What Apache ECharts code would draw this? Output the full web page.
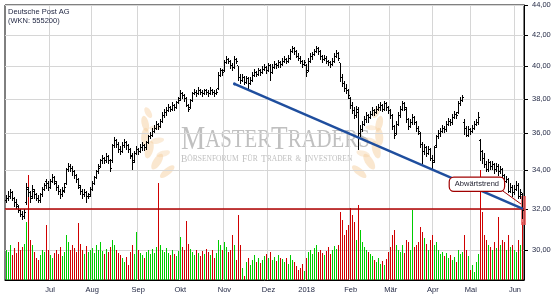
<!DOCTYPE html>
<html><head><meta charset="utf-8">
<script src="https://cdn.jsdelivr.net/npm/echarts@6/dist/echarts.min.js"></script>
<style>html,body{margin:0;padding:0;background:#fff}#c{width:555px;height:300px}</style>
</head><body><div id="c"></div>
<script>
// ---- data ----
const monthLabels = ['', 'Jul', 'Aug', 'Sep', 'Okt', 'Nov', 'Dez', '2018', 'Feb', 'Mär', 'Apr', 'Mai', 'Jun'];
const monthDays = [22, 21, 23, 21, 22, 22, 19, 22, 20, 21, 19, 22, 5];
const priceTicks = [30, 32, 34, 36, 38, 40, 42, 44];
// [open, high, low, close]
const ohlc = [
[32.4,32.7,32.3,32.5],[32.5,32.9,32.4,32.6],[32.6,33.0,32.5,32.8],[32.8,32.9,32.4,32.5],[32.5,32.6,32.1,32.3],
[32.3,32.5,32.0,32.2],[32.1,32.2,31.8,31.9],[31.9,32.0,31.6,31.7],[31.7,31.9,31.45,31.6],[31.6,32.0,31.5,31.8],
[32.3,33.3,32.2,33.1],[33.0,33.1,32.6,32.8],[32.8,32.9,32.3,32.5],[32.6,33.2,32.5,33.0],[32.9,33.0,32.5,32.7],
[32.7,32.8,32.4,32.5],[32.5,32.7,32.3,32.4],[32.4,32.8,32.3,32.7],[32.7,33.1,32.6,33.0],[33.0,33.3,32.9,33.2],
[33.4,33.5,33.0,33.3],[33.3,33.4,32.9,33.1],[33.1,33.5,33.0,33.4],[33.4,33.8,33.3,33.6],[33.6,33.7,33.2,33.4],
[33.3,33.4,32.9,33.1],[33.1,33.2,32.7,32.9],[32.9,33.0,32.5,32.7],[32.7,33.1,32.6,32.95],[32.9,33.3,32.8,33.1],
[33.3,34.1,33.2,34.0],[34.0,34.4,33.9,34.2],[34.2,34.3,33.9,34.1],[34.1,34.2,33.7,33.9],[33.9,34.0,33.5,33.7],
[33.7,33.8,33.3,33.5],[33.5,33.6,33.0,33.2],[33.1,33.2,32.7,32.9],[32.9,33.0,32.5,32.7],[32.7,33.0,32.6,32.8],
[32.8,32.9,32.3,32.6],[32.6,32.8,32.5,32.6],[32.7,33.1,32.6,33.0],[33.0,33.4,32.9,33.3],[33.3,33.7,33.2,33.6],
[33.6,34.0,33.5,33.9],[33.9,34.3,33.8,34.1],[34.2,34.6,34.1,34.5],[34.5,34.8,34.3,34.6],[34.6,34.7,34.3,34.5],
[34.5,34.9,34.4,34.7],[34.7,34.8,34.3,34.5],[34.5,34.6,33.9,34.1],[34.5,35.4,34.4,35.3],[35.3,35.8,35.2,35.6],
[35.6,35.7,35.2,35.4],[35.4,35.5,34.9,35.1],[35.1,35.3,34.8,35.0],[35.0,35.5,34.9,35.3],[35.3,35.7,35.2,35.5],
[35.5,35.6,35.1,35.3],[35.3,35.4,34.9,35.1],[35.1,35.2,34.6,34.8],[34.7,34.9,34.0,34.4],[34.5,35.0,34.4,34.9],
[34.9,35.3,34.8,35.1],[35.1,35.2,34.8,35.0],[35.0,35.4,34.9,35.2],[35.2,35.5,35.0,35.3],[35.3,35.4,35.0,35.2],
[35.2,35.6,35.1,35.5],[35.5,35.9,35.4,35.8],[35.8,36.1,35.7,35.9],[35.9,36.3,35.8,36.1],[36.1,36.5,36.0,36.3],
[36.3,36.7,36.2,36.5],[36.5,36.6,36.2,36.4],[36.4,36.8,36.3,36.7],[36.7,37.2,36.6,37.0],[37.0,37.4,36.9,37.2],
[37.2,37.5,37.0,37.3],[37.3,37.7,37.2,37.5],[37.5,37.6,37.2,37.4],[37.4,37.8,37.3,37.6],[37.6,37.7,37.3,37.5],
[37.5,37.9,37.4,37.8],[37.8,38.1,37.7,37.9],[38.0,38.5,37.9,38.3],[38.3,38.4,38.0,38.2],[38.2,38.3,37.8,38.0],
[38.0,38.1,37.5,37.6],[37.6,37.7,37.2,37.4],[37.5,38.0,37.4,37.9],[37.9,38.4,37.8,38.3],[38.3,38.6,38.2,38.4],
[38.4,38.5,38.1,38.3],[38.3,38.7,38.2,38.5],[38.5,38.6,38.2,38.4],[38.4,38.5,38.1,38.3],[38.3,38.6,38.2,38.5],
[38.5,38.6,38.2,38.4],[38.4,38.5,38.1,38.3],[38.3,38.7,38.2,38.5],[38.5,38.6,38.2,38.4],[38.4,38.5,38.1,38.3],
[38.3,38.6,38.2,38.4],[38.6,39.6,38.5,39.4],[39.4,39.9,39.3,39.7],[39.7,39.8,39.4,39.6],[39.7,40.4,39.6,40.2],
[40.2,40.6,40.1,40.4],[40.4,40.5,40.1,40.3],[40.3,40.4,39.8,40.0],[40.0,40.2,39.7,39.9],[39.9,40.6,39.8,40.4],
[40.4,40.5,40.1,40.3],[40.0,40.0,39.1,39.3],[39.3,39.5,38.9,39.1],[39.1,39.5,39.0,39.3],[39.3,39.4,38.8,39.0],
[39.0,39.4,38.9,39.2],[39.2,39.3,38.6,38.9],[38.9,39.3,38.8,39.1],[39.1,39.6,39.0,39.4],[39.4,39.8,39.3,39.6],
[39.6,39.7,39.3,39.5],[39.5,39.9,39.4,39.7],[39.7,39.8,39.4,39.6],[39.6,40.0,39.5,39.8],[39.8,40.1,39.7,39.9],
[39.9,40.0,39.5,39.7],[39.7,40.2,39.6,40.0],[40.0,40.1,39.1,39.6],[39.6,40.1,39.5,39.9],[39.9,40.3,39.8,40.1],
[40.1,40.2,39.8,40.0],[40.0,40.4,39.9,40.2],[40.2,40.3,39.9,40.1],[40.1,40.5,40.0,40.3],[40.3,40.6,40.2,40.4],
[40.4,40.5,40.1,40.3],[40.3,40.7,40.2,40.5],[40.5,41.1,40.4,40.9],[40.9,41.3,40.8,41.1],[41.1,41.2,40.7,40.9],
[40.9,41.0,40.5,40.6],[40.6,40.8,40.3,40.5],[40.5,40.6,40.1,40.3],[40.3,40.4,39.9,40.1],[40.1,40.4,40.0,40.2],
[40.0,40.1,39.3,39.6],[39.7,40.5,39.6,40.3],[40.3,40.8,40.2,40.6],[40.6,40.9,40.4,40.7],[40.7,41.1,40.6,40.9],
[40.9,41.3,40.8,41.1],[41.1,41.2,40.7,40.9],[40.9,41.0,40.4,40.6],[40.6,40.7,40.2,40.4],[40.4,40.7,40.3,40.5],
[40.5,40.6,40.1,40.3],[40.3,40.4,40.0,40.2],[40.2,40.3,39.9,40.1],[40.1,40.5,40.0,40.3],[40.3,40.8,40.2,40.6],
[40.6,41.0,40.5,40.8],[40.8,40.9,40.3,40.5],[40.2,40.2,39.0,39.3],[39.3,39.5,38.7,38.9],[38.9,39.1,38.4,38.6],
[38.6,38.9,38.3,38.5],[38.5,38.6,38.0,38.2],[38.0,38.1,37.4,37.6],[37.6,37.8,37.1,37.3],[37.3,37.5,36.8,37.0],
[37.0,37.6,36.9,37.4],[37.2,37.5,35.1,36.0],[36.0,36.5,35.8,36.2],[36.2,36.7,36.1,36.5],[36.5,37.0,36.4,36.8],
[36.8,37.2,36.6,37.0],[37.0,37.1,36.6,36.9],[36.9,37.3,36.8,37.1],[37.1,37.5,37.0,37.3],[37.3,37.4,37.0,37.2],
[37.2,37.6,37.1,37.4],[37.4,37.7,37.3,37.5],[37.5,37.8,37.3,37.6],[37.6,37.7,37.2,37.4],[37.4,37.9,37.3,37.7],
[37.7,37.8,37.3,37.5],[37.5,37.6,37.1,37.3],[37.3,37.4,36.8,37.0],[37.0,37.1,36.2,36.4],[36.4,36.5,35.7,35.9],
[36.0,36.7,35.9,36.5],[36.5,37.2,36.4,37.0],[37.0,37.6,36.9,37.4],[37.4,37.9,37.3,37.7],[37.7,37.8,37.3,37.5],
[37.4,37.5,36.6,36.8],[36.8,36.9,36.2,36.4],[36.4,36.8,36.3,36.6],[36.6,37.1,36.5,36.9],[36.9,37.0,36.5,36.6],
[36.6,36.7,36.1,36.3],[36.3,36.4,35.9,36.1],[36.0,36.1,35.2,35.4],[35.4,35.5,34.3,35.0],[35.0,35.4,34.8,35.2],
[35.2,35.3,34.7,34.9],[34.9,35.3,34.8,35.1],[35.1,35.2,34.5,34.6],[34.6,34.8,34.0,34.4],[34.5,35.3,34.4,35.2],
[35.3,35.9,35.2,35.8],[35.8,36.2,35.7,36.0],[36.0,36.3,35.8,36.1],[36.1,36.5,36.0,36.3],[36.3,36.4,36.0,36.2],
[36.2,36.7,36.1,36.5],[36.5,36.9,36.4,36.7],[36.7,36.8,36.4,36.6],[36.6,37.1,36.5,36.9],[36.9,37.3,36.8,37.1],
[37.1,37.2,36.8,37.0],[37.2,37.9,37.1,37.7],[37.7,38.1,37.6,37.9],[37.9,38.2,37.8,38.1],[36.6,36.8,35.9,36.3],
[36.3,36.4,35.8,35.9],[35.9,36.4,35.8,36.2],[36.2,36.3,35.9,36.1],[36.1,36.5,36.0,36.3],[36.3,36.7,36.2,36.5],
[36.5,36.8,36.4,36.6],[36.6,37.2,36.5,36.9],[35.6,35.7,34.5,35.0],[35.0,35.1,34.3,34.6],[34.6,34.9,34.1,34.3],
[34.3,34.5,33.9,34.0],[34.0,34.6,33.9,34.4],[34.4,34.5,34.0,34.2],[34.2,34.5,34.0,34.3],[34.3,34.4,33.8,34.0],
[34.0,34.4,33.9,34.2],[34.2,34.3,33.7,33.9],[33.9,34.2,33.8,34.0],[34.0,34.1,33.5,33.7],[33.7,33.8,33.2,33.4],
[33.4,33.7,33.3,33.5],[33.5,33.6,32.8,32.9],[32.9,33.3,32.8,33.1],[33.1,33.2,32.6,32.8],[32.8,33.2,32.7,33.0],
[33.0,33.4,32.9,33.2],[33.2,33.3,32.5,32.6],[32.6,33.0,32.5,32.8],[32.7,32.8,31.5,31.9]
];
// volume in millions of shares
const volume = [
3.0,2.8,3.5,2.5,3.2,2.7,3.8,3.0,3.3,3.6,
5.8,10.5,4.0,3.5,2.8,2.2,2.0,2.5,3.0,2.8,
5.5,3.0,2.5,2.2,2.7,3.0,2.6,3.3,2.4,2.8,
4.5,3.8,3.0,3.5,3.2,2.8,5.7,3.6,3.0,2.6,
3.4,2.8,3.0,3.2,2.7,3.5,3.0,3.8,2.9,2.6,
3.1,2.8,3.3,4.0,3.5,3.0,2.7,2.5,2.2,1.8,
2.3,1.5,2.8,3.5,2.6,4.8,3.0,2.7,2.5,2.2,
2.8,3.0,2.6,3.1,2.7,3.3,9.7,3.5,3.0,2.8,
3.2,2.7,2.5,3.0,2.6,2.4,2.9,4.3,3.3,3.0,
5.9,3.6,3.1,2.8,2.5,3.0,2.7,2.4,2.9,2.6,
3.1,2.8,2.5,3.0,2.2,2.7,4.0,3.5,3.0,3.8,
3.3,2.8,3.0,4.5,3.5,2.0,6.5,3.5,1.2,0.4,
1.8,2.2,1.5,2.0,2.5,1.8,2.2,1.7,2.0,2.4,
2.6,2.2,2.8,2.0,2.3,1.9,2.5,2.2,2.1,1.8,
2.2,1.6,2.5,2.0,1.8,1.4,1.0,1.2,1.6,0.9,
2.2,2.8,3.0,2.6,3.2,3.5,2.8,3.0,2.7,2.5,
2.9,3.3,2.6,3.0,3.4,3.1,3.5,6.8,6.0,4.5,
5.0,5.5,7.2,6.5,5.8,4.0,7.5,5.0,3.8,3.3,
3.0,2.8,2.6,2.4,2.0,1.8,2.2,1.6,1.9,1.5,
2.1,2.8,3.3,4.5,5.0,3.5,3.0,2.8,3.5,2.7,
4.0,3.8,3.0,7.0,3.3,3.5,3.8,5.3,4.8,4.2,
3.6,3.0,4.0,4.5,3.5,3.8,3.0,2.6,2.8,2.4,
2.7,2.2,2.5,2.0,2.3,1.8,3.0,2.6,2.8,4.5,
3.0,2.4,1.0,1.5,0.8,1.8,2.6,11.0,6.8,4.5,
4.0,3.5,3.3,3.0,3.8,3.2,6.3,3.5,4.0,3.8,
3.0,4.5,3.3,3.5,3.0,2.8,4.0,3.5,5.8
];
const trendLine = [[114, 38.9], [258, 32.0]];
const connector = [[248, 32.9], [257, 32.24]];
const supportLevel = 32;
const annotation = { text: 'Abwärtstrend', index: 235, price: 33.25 };
const highlight = [[258, 32.65, 31.2]];

// ---- build ----
const categories = [];
const labelAt = {};
let k = 0;
monthDays.forEach((n, m) => {
  for (let d = 0; d < n; d++) {
    categories.push('t' + k);
    if (d === 0 && monthLabels[m]) labelAt[k] = monthLabels[m];
    k++;
  }
});
const isMonthStart = (idx) => labelAt[idx] !== undefined;
const L = Math.log;
const FONT = '"Liberation Sans", Arial, sans-serif';
const TXT = '#1e2440';
const SERIF = '"Liberation Serif", serif';
const WM = '#c0c0c0';

const ohlcData = ohlc.map((d, i) => [i, L(d[0]), L(d[1]), L(d[2]), L(d[3])]);
const volData = volume.map((v, i) => [i, v, ohlc[i][3] >= ohlc[i][0] ? 1 : 0]);

const leaf = (x, y, r, rx, ry, op) => ({ type: 'ellipse', x, y, rotation: r,
  shape: { cx: 0, cy: 0, rx, ry }, style: { fill: '#f6cf9f', opacity: op } });

const chart = echarts.init(document.getElementById('c'), null, { renderer: 'canvas' });
chart.setOption({
  animation: false,
  backgroundColor: '#fff',
  grid: { left: 5, right: 31, top: 5, bottom: 20, show: true, borderColor: '#000', borderWidth: 1 },
  xAxis: {
    type: 'category', data: categories, boundaryGap: true,
    axisLine: { lineStyle: { color: '#000', width: 1 } },
    axisTick: { interval: (i) => isMonthStart(i), length: 4, lineStyle: { color: '#000' } },
    axisLabel: { interval: (i) => isMonthStart(i), formatter: (v, i) => labelAt[i] || '',
      fontSize: 7.5, fontFamily: FONT, color: TXT, margin: 6 },
    splitLine: { show: true, interval: (i) => isMonthStart(i), lineStyle: { color: '#d6d6d6', width: 1 } }
  },
  yAxis: [{
    type: 'value', position: 'right', min: L(28.63), max: L(44), scale: true,
    axisLine: { show: true, lineStyle: { color: '#000', width: 1 } },
    axisTick: { show: true, length: 4, customValues: priceTicks.map(L), lineStyle: { color: '#000' } },
    axisLabel: { customValues: priceTicks.map(L), formatter: (v) => Math.exp(v).toFixed(2).replace('.', ','),
      fontSize: 7.5, fontFamily: FONT, color: TXT, margin: 8 },
    splitLine: { show: true, lineStyle: { color: '#d6d6d6', width: 1 } }
  }, {
    type: 'value', min: 0, max: 27.5, show: false, splitLine: { show: false }
  }],
  graphic: [
    { type: 'text', left: 8, top: 7, z: 10,
      style: { text: 'Deutsche Post AG\n(WKN: 555200)', font: '7.5px ' + FONT, fill: TXT, lineHeight: 9.5 } },
    { type: 'group', left: 140, top: 106, z: -1, silent: true, children: [
      leaf(34, 64, 0.7, 9, 3.5, 0.5), leaf(24, 54, 1.0, 9, 4, 0.5), leaf(16, 42, 1.3, 9, 4, 0.5),
      leaf(12, 29, 1.5, 9, 4, 0.5), leaf(12, 16, 1.8, 8, 3.5, 0.5), leaf(15, 5, 2.1, 6, 3, 0.45),
      leaf(30, 46, 0.3, 7, 3, 0.4), leaf(24, 33, 0.2, 7, 3, 0.4), leaf(22, 20, 0.1, 6, 2.5, 0.35),
      leaf(226, 64, -0.7, 9, 3.5, 0.5), leaf(236, 54, -1.0, 9, 4, 0.5), leaf(243, 42, -1.3, 9, 4, 0.5),
      leaf(246, 29, -1.5, 9, 4, 0.5), leaf(246, 16, -1.8, 8, 3.5, 0.5), leaf(243, 5, -2.1, 6, 3, 0.45),
      leaf(230, 46, -0.3, 7, 3, 0.4), leaf(236, 33, -0.2, 7, 3, 0.4), leaf(238, 20, -0.1, 6, 2.5, 0.35)
    ]},
    { type: 'text', x: 181, y: 123, scaleX: 0.8, z: -1, silent: true,
      style: { text: '{a|M}{b|ASTER}{a|T}{b|RADERS}', fill: WM,
        rich: { a: { fontSize: 34, fontFamily: SERIF, fill: WM },
                b: { fontSize: 26, fontFamily: SERIF, fill: WM } } } },
    { type: 'text', x: 181, y: 153, z: -1, silent: true,
      style: { text: '{c|B}{d|ÖRSENFORUM} {c|F}{d|ÜR} {c|T}{d|RADER} {d|&} {c|I}{d|NVESTOREN}', fill: WM,
        rich: { c: { fontSize: 9.5, fontFamily: SERIF, fill: WM },
                d: { fontSize: 7.5, fontFamily: SERIF, fill: WM } } } }
  ],
  series: [{
    type: 'custom', name: 'Volumen', xAxisIndex: 0, yAxisIndex: 1, z: 1, silent: true,
    data: volData,
    encode: { x: 0, y: 1 },
    renderItem: (params, api) => {
      const top = api.coord([api.value(0), api.value(1)]);
      const base = api.coord([api.value(0), 0]);
      const xi = Math.round(top[0] - 0.5);
      const yt = Math.round(top[1]);
      return { type: 'rect', shape: { x: xi, y: yt, width: 1, height: Math.round(base[1]) - yt },
        style: { fill: api.value(2) ? '#00cc00' : '#d00000' } };
    }
  }, {
    type: 'custom', name: 'Highlight', xAxisIndex: 0, yAxisIndex: 0, z: 2, silent: true,
    data: highlight.map(h => [h[0], L(h[1]), L(h[2])]),
    renderItem: (params, api) => {
      const a = api.coord([api.value(0), api.value(1)]);
      const b = api.coord([api.value(0), api.value(2)]);
      const xi = Math.round(a[0] - 0.5);
      return { type: 'rect', shape: { x: xi - 1, y: Math.round(a[1]), width: 5, height: Math.round(b[1] - a[1]) },
        style: { fill: '#ee5a5a', opacity: 0.8 } };
    }
  }, {
    type: 'custom', name: 'Deutsche Post AG', xAxisIndex: 0, yAxisIndex: 0, z: 3, silent: true,
    data: ohlcData,
    encode: { x: 0, y: [1, 2, 3, 4] },
    renderItem: (params, api) => {
      const i = api.value(0);
      const o = api.coord([i, api.value(1)]);
      const h = api.coord([i, api.value(2)]);
      const l = api.coord([i, api.value(3)]);
      const c = api.coord([i, api.value(4)]);
      const xi = Math.round(o[0] - 0.5);
      const st = { stroke: '#000', lineWidth: 1 };
      const oy = Math.round(o[1] - 0.5) + 0.5, cy = Math.round(c[1] - 0.5) + 0.5;
      return { type: 'group', children: [
        { type: 'line', shape: { x1: xi + 0.5, y1: Math.round(h[1]), x2: xi + 0.5, y2: Math.round(l[1]) }, style: st },
        { type: 'line', shape: { x1: xi - 1, y1: oy, x2: xi, y2: oy }, style: st },
        { type: 'line', shape: { x1: xi + 1, y1: cy, x2: xi + 2, y2: cy }, style: st }
      ]};
    },
    markLine: {
      silent: true, symbol: 'none', animation: false, label: { show: false },
      data: [
        [{ yAxis: L(supportLevel), x: 5, lineStyle: { color: '#b00000', width: 1.5, type: 'solid' } }, { yAxis: L(supportLevel), x: 524 }],
        [{ coord: [trendLine[0][0], L(trendLine[0][1])], symbol: 'circle', symbolSize: 3, lineStyle: { color: '#1f4e9e', width: 2.5, type: 'solid' } },
         { coord: [trendLine[1][0], L(trendLine[1][1])], symbol: 'none' }],
        [{ coord: [connector[0][0], L(connector[0][1])], lineStyle: { color: '#a00000', width: 1, type: 'solid' } },
         { coord: [connector[1][0], L(connector[1][1])] }]
      ]
    },
    markPoint: {
      silent: true, symbol: 'rect', symbolSize: 0, animation: false,
      data: [{ coord: [annotation.index, L(annotation.price)],
        label: { show: true, position: 'inside', formatter: annotation.text, fontSize: 7.5, fontFamily: FONT, color: '#1e1e2e',
          backgroundColor: '#fff', borderColor: '#a00000', borderWidth: 1.2, borderRadius: 4, padding: [3, 5, 2, 5] } }]
    }
  }]
});
</script>
</body></html>
